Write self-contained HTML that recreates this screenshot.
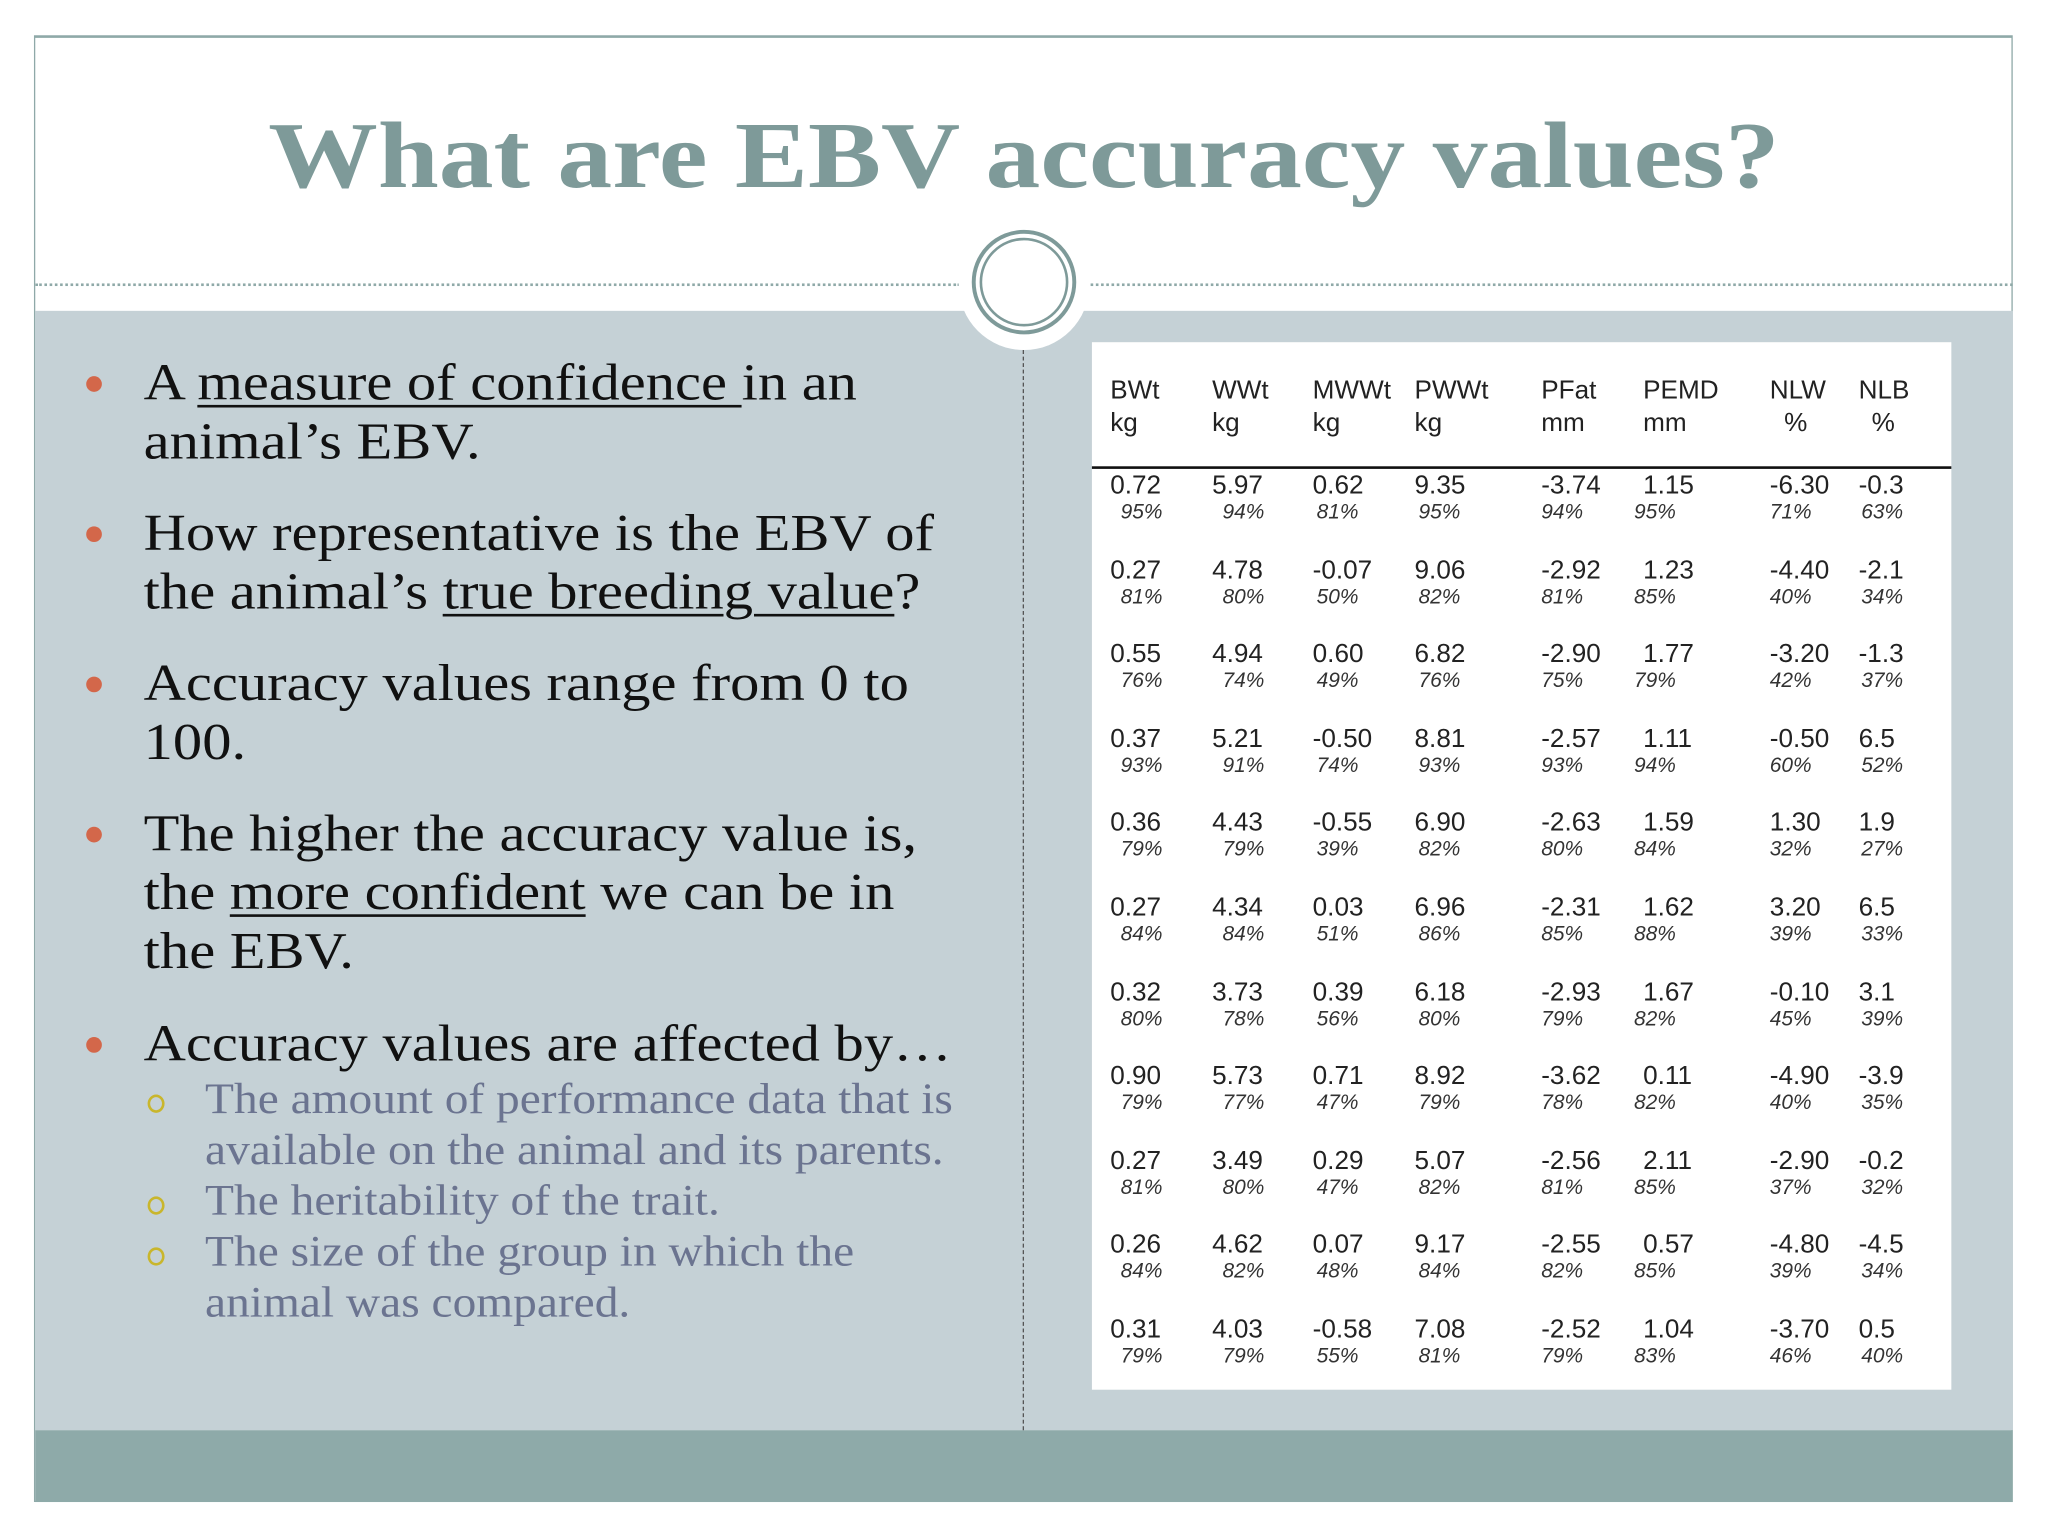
<!DOCTYPE html>
<html><head><meta charset="utf-8">
<style>
html,body{margin:0;padding:0;width:2048px;height:1536px;overflow:hidden;background:#fff}
#stage{position:absolute;left:0;top:0;width:1568px;height:1176px;transform:scale(1.306122);transform-origin:0 0;background:#fff}
.abs{position:absolute}
.ser{font-family:"Liberation Serif",serif}
.san{font-family:"Liberation Sans",sans-serif}
.line{position:absolute;left:110px;white-space:nowrap;font-size:40px;color:#111;line-height:45px;transform:scaleX(1.12);transform-origin:0 0}
.sub{position:absolute;left:157px;white-space:nowrap;font-size:33px;color:#6b7490;line-height:39px;transform:scaleX(1.1);transform-origin:0 0}
.dot{position:absolute;left:66px;width:12px;height:12px;border-radius:50%;background:#d3674a}
.ring{position:absolute;left:113px;width:13px;height:14px;border-radius:50%;border:2px solid #c9b62c;box-sizing:border-box}
u{text-decoration-thickness:2px;text-underline-offset:4px}
.cell{position:absolute;font-size:20px;color:#222;white-space:nowrap}
.pct{position:absolute;font-size:16px;font-style:italic;color:#333;white-space:nowrap}
</style></head><body>
<div id="stage">
  <div class="abs" style="left:26px;top:27px;width:1515px;height:1123px;border:1px solid #8fa9a8;border-top:2px solid #8fa9a8;box-sizing:border-box"></div>
  <div class="abs" style="left:27px;top:238px;width:1514px;height:857px;background:#c5d1d6"></div>
  <div class="abs" style="left:27px;top:1095px;width:1514px;height:55px;background:#8eaaa9"></div>
  <div class="abs" style="left:27px;top:217px;width:708px;border-top:2px dotted #8fa9a8"></div>
  <div class="abs" style="left:835px;top:217px;width:706px;border-top:2px dotted #8fa9a8"></div>
  <div class="abs" style="left:734px;top:168px;width:100px;height:100px;border-radius:50%;background:#fff"></div>
  <div class="abs" style="left:744px;top:176px;width:80px;height:80px;border-radius:50%;border:3px solid #7e9a99;box-sizing:border-box"></div>
  <div class="abs" style="left:750px;top:182px;width:68px;height:68px;border-radius:50%;border:2px solid #7e9a99;box-sizing:border-box"></div>
  <div class="abs" style="left:783px;top:268px;height:827px;border-left:1px dashed #555"></div>
  <div class="abs ser" style="left:0;top:74px;width:1568px;text-align:center;font-size:72px;font-weight:bold;color:#7e9a99;line-height:90px;transform:scaleX(1.165);transform-origin:784px 0">What are EBV accuracy values?</div>

  <div class="ser">
    <div class="dot" style="top:288px"></div>
    <div class="line" style="top:270px">A <u>measure of confidence </u>in an</div>
    <div class="line" style="top:315px">animal’s EBV.</div>
    <div class="dot" style="top:403px"></div>
    <div class="line" style="top:385px">How representative is the EBV of</div>
    <div class="line" style="top:430px">the animal’s <u>true breeding value</u>?</div>
    <div class="dot" style="top:518px"></div>
    <div class="line" style="top:500px">Accuracy values range from 0 to</div>
    <div class="line" style="top:545px">100.</div>
    <div class="dot" style="top:633px"></div>
    <div class="line" style="top:615px">The higher the accuracy value is,</div>
    <div class="line" style="top:660px">the <u>more confident</u> we can be in</div>
    <div class="line" style="top:705px">the EBV.</div>
    <div class="dot" style="top:794px"></div>
    <div class="line" style="top:776px">Accuracy values are affected by…</div>
    <div class="ring" style="top:838px"></div>
    <div class="sub" style="top:823px">The amount of performance data that is</div>
    <div class="sub" style="top:862px">available on the animal and its parents.</div>
    <div class="ring" style="top:916px"></div>
    <div class="sub" style="top:901px">The heritability of the trait.</div>
    <div class="ring" style="top:955px"></div>
    <div class="sub" style="top:940px">The size of the group in which the</div>
    <div class="sub" style="top:979px">animal was compared.</div>
  </div>

  <div id="table" class="abs san" style="left:836px;top:262px;width:658px;height:802px;background:#fff">
    <div class="abs" style="left:0;top:95px;width:658px;height:2px;background:#111"></div>
  </div>
</div>
<script>
const traits = ["BWt","WWt","MWWt","PWWt","PFat","PEMD","NLW","NLB"];
const units = ["kg","kg","kg","kg","mm","mm","%","%"];
const ebvValues = [
 ["0.72","5.97","0.62","9.35","-3.74","1.15","-6.30","-0.3"],
 ["0.27","4.78","-0.07","9.06","-2.92","1.23","-4.40","-2.1"],
 ["0.55","4.94","0.60","6.82","-2.90","1.77","-3.20","-1.3"],
 ["0.37","5.21","-0.50","8.81","-2.57","1.11","-0.50","6.5"],
 ["0.36","4.43","-0.55","6.90","-2.63","1.59","1.30","1.9"],
 ["0.27","4.34","0.03","6.96","-2.31","1.62","3.20","6.5"],
 ["0.32","3.73","0.39","6.18","-2.93","1.67","-0.10","3.1"],
 ["0.90","5.73","0.71","8.92","-3.62","0.11","-4.90","-3.9"],
 ["0.27","3.49","0.29","5.07","-2.56","2.11","-2.90","-0.2"],
 ["0.26","4.62","0.07","9.17","-2.55","0.57","-4.80","-4.5"],
 ["0.31","4.03","-0.58","7.08","-2.52","1.04","-3.70","0.5"]
];
const accuracies = [
 ["95%","94%","81%","95%","94%","95%","71%","63%"],
 ["81%","80%","50%","82%","81%","85%","40%","34%"],
 ["76%","74%","49%","76%","75%","79%","42%","37%"],
 ["93%","91%","74%","93%","93%","94%","60%","52%"],
 ["79%","79%","39%","82%","80%","84%","32%","27%"],
 ["84%","84%","51%","86%","85%","88%","39%","33%"],
 ["80%","78%","56%","80%","79%","82%","45%","39%"],
 ["79%","77%","47%","79%","78%","82%","40%","35%"],
 ["81%","80%","47%","82%","81%","85%","37%","32%"],
 ["84%","82%","48%","84%","82%","85%","39%","34%"],
 ["79%","79%","55%","81%","79%","83%","46%","40%"]
];
const colX=[14,92,169,247,344,422,519,587];
const pctX=[22,100,172,250,344,415,519,589];
const unitX=[14,92,169,247,344,422,530,597];
const t=document.getElementById('table');
function mk(cls,txt,x,y,name){
  const d=document.createElement('div');
  d.className=cls;d.textContent=txt;d.style.left=x+'px';d.style.top=y+'px';
  
  
  t.appendChild(d);
}
traits.forEach((h,i)=>{
  mk('cell',h,colX[i],26,'header-'+h.toLowerCase());
  mk('cell',units[i],unitX[i],51,'unit-'+h.toLowerCase());
});
ebvValues.forEach((row,r)=>{
  const y=99+r*64.6;
  row.forEach((v,c)=>{
    mk('cell',v,colX[c],y,'ebv-value');
    mk('pct',accuracies[r][c],pctX[c],y+23,'accuracy-value');
  });
});
</script>
</body></html>
